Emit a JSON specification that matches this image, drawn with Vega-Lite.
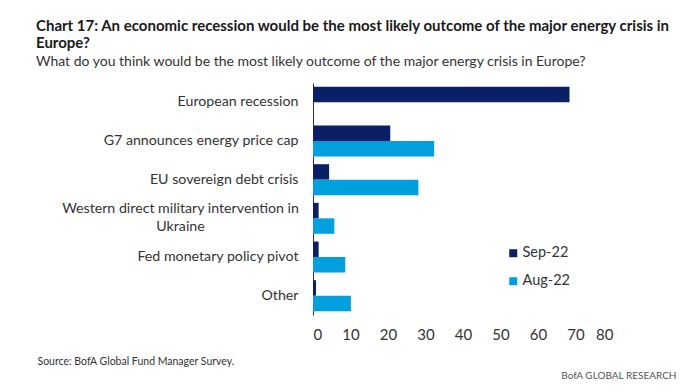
{
  "$schema": "https://vega.github.io/schema/vega-lite/v6.json",
  "width": 300,
  "height": 232,
  "autosize": {"type": "none"},
  "padding": {"left": 313, "top": 83, "right": 67, "bottom": 76},
  "background": "white",
  "title": {
    "text": ["Chart 17: An economic recession would be the most likely outcome of the major energy crisis in", "Europe?"],
    "subtitle": "What do you think would be the most likely outcome of the major energy crisis in Europe?",
    "anchor": "start",
    "frame": "group",
    "dx": -277,
    "offset": 14,
    "font": "Lato, sans-serif",
    "fontSize": 15,
    "fontWeight": "bold",
    "color": "#1a1a1a",
    "lineHeight": 17,
    "subtitleFont": "Lato, sans-serif",
    "subtitleFontSize": 14,
    "subtitleColor": "#333333",
    "subtitlePadding": 4
  },
  "data": {
    "values": [
      {"outcome": "European recession", "survey": "Sep-22", "share": 68.4},
      {"outcome": "G7 announces energy price cap", "survey": "Sep-22", "share": 20.6},
      {"outcome": "G7 announces energy price cap", "survey": "Aug-22", "share": 32.3},
      {"outcome": "EU sovereign debt crisis", "survey": "Sep-22", "share": 4.3},
      {"outcome": "EU sovereign debt crisis", "survey": "Aug-22", "share": 28.1},
      {"outcome": "Western direct military intervention in Ukraine", "survey": "Sep-22", "share": 1.5},
      {"outcome": "Western direct military intervention in Ukraine", "survey": "Aug-22", "share": 5.7},
      {"outcome": "Fed monetary policy pivot", "survey": "Sep-22", "share": 1.5},
      {"outcome": "Fed monetary policy pivot", "survey": "Aug-22", "share": 8.6},
      {"outcome": "Other", "survey": "Sep-22", "share": 0.8},
      {"outcome": "Other", "survey": "Aug-22", "share": 10.1}
    ]
  },
  "mark": {"type": "bar"},
  "encoding": {
    "y": {
      "field": "outcome",
      "type": "nominal",
      "sort": ["European recession", "G7 announces energy price cap", "EU sovereign debt crisis", "Western direct military intervention in Ukraine", "Fed monetary policy pivot", "Other"],
      "scale": {"paddingInner": 0.2, "paddingOuter": 0.1},
      "axis": {
        "title": "BofA GLOBAL RESEARCH",
        "titleAngle": 0,
        "titleX": 363,
        "titleY": 295,
        "titleAlign": "right",
        "titleBaseline": "alphabetic",
        "titleFont": "Lato, sans-serif",
        "titleFontSize": 10,
        "titleFontWeight": "normal",
        "titleColor": "#555555",
        "labelExpr": "datum.value == 'Western direct military intervention in Ukraine' ? ['Western direct military intervention in', 'Ukraine'] : datum.label",
        "labelFont": "Lato, sans-serif",
        "labelFontSize": 14.2,
        "labelColor": "#333333",
        "labelLineHeight": 18,
        "labelAlign": {"condition": {"test": "datum.value == 'Western direct military intervention in Ukraine'", "value": "center"}, "value": "right"},
        "labelPadding": {"condition": {"test": "datum.value == 'Western direct military intervention in Ukraine'", "value": 133}, "value": 15},
        "labelOffset": {"condition": {"test": "datum.value == 'Western direct military intervention in Ukraine'", "value": -9}, "value": 0},
        "labelLimit": 400,
        "ticks": false,
        "domain": true,
        "domainColor": "#333333",
        "domainWidth": 1,
        "grid": false
      }
    },
    "x": {
      "field": "share",
      "type": "quantitative",
      "scale": {"domain": [0, 80]},
      "axis": {
        "values": [0, 10, 20, 30, 40, 50, 60, 70, 80],
        "title": "Source: BofA Global Fund Manager Survey.",
        "titleX": -276,
        "titleY": 49,
        "titleAlign": "left",
        "titleBaseline": "alphabetic",
        "titleFont": "Lato, sans-serif",
        "titleFontSize": 10.5,
        "titleFontWeight": "normal",
        "titleColor": "#333333",
        "labelFont": "Lato, sans-serif",
        "labelFontSize": 15,
        "labelColor": "#333333",
        "labelPadding": 12,
        "ticks": false,
        "domain": false,
        "grid": false
      }
    },
    "yOffset": {"field": "survey", "type": "nominal", "sort": ["Sep-22", "Aug-22"]},
    "color": {
      "field": "survey",
      "type": "nominal",
      "scale": {"domain": ["Sep-22", "Aug-22"], "range": ["#0a1f66", "#00a0df"]},
      "legend": {
        "title": null,
        "orient": "none",
        "legendX": 193,
        "legendY": 163,
        "symbolType": "square",
        "symbolSize": 64,
        "symbolStrokeWidth": 0,
        "labelFont": "Lato, sans-serif",
        "labelFontSize": 14.5,
        "labelColor": "#333333",
        "labelOffset": 2,
        "rowPadding": 13
      }
    }
  },
  "config": {"view": {"stroke": null}}
}
